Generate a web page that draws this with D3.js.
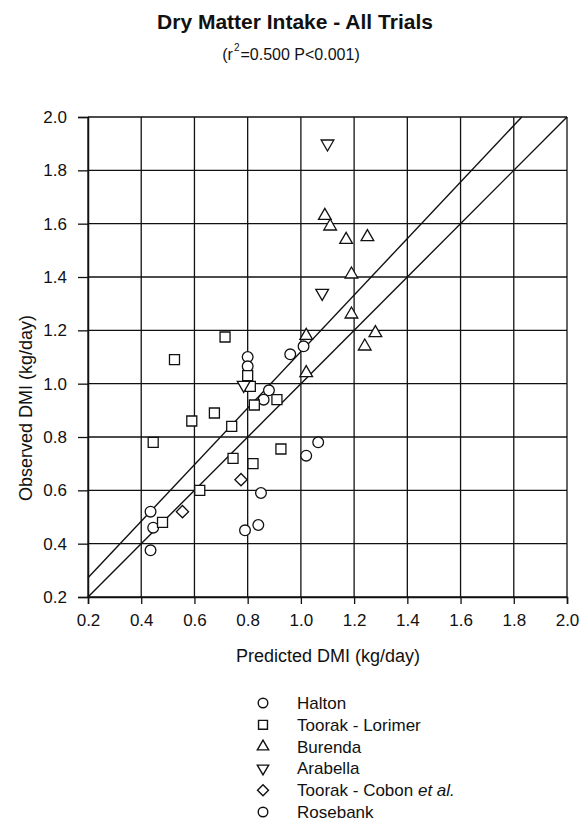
<!DOCTYPE html>
<html>
<head>
<meta charset="utf-8">
<script src="https://cdn.jsdelivr.net/npm/d3@7"></script>
<style>
  body { margin: 0; background: #fff; }
  text { font-family: "Liberation Sans", Arial, sans-serif; fill: #111; }
</style>
</head>
<body>
<svg id="chart"></svg>
<script>
// data (predicted, observed) in kg/day
var halton = [[0.80, 1.10], [0.80, 1.065], [0.96, 1.11], [0.88, 0.975], [0.86, 0.94],
  [1.065, 0.78], [1.02, 0.73], [0.85, 0.59], [0.435, 0.52], [0.445, 0.46],
  [0.435, 0.375], [0.79, 0.45], [0.84, 0.47]]
var toorakLorimer = [[0.80, 1.03], [0.81, 0.99], [0.91, 0.94], [0.825, 0.92], [0.74, 0.84],
  [0.675, 0.89], [0.59, 0.86], [0.445, 0.78], [0.525, 1.09], [0.715, 1.175],
  [0.745, 0.72], [0.82, 0.70], [0.925, 0.755], [0.62, 0.60], [0.48, 0.48]]
var burenda = [[1.09, 1.63], [1.11, 1.59], [1.17, 1.54], [1.25, 1.55], [1.19, 1.41],
  [1.19, 1.26], [1.28, 1.19], [1.24, 1.14], [1.02, 1.18], [1.02, 1.04]]
var arabella = [[1.10, 1.90], [1.08, 1.34], [0.785, 0.995]]
var toorakCobon = [[0.775, 0.64], [0.555, 0.52]]
var rosebank = [[1.01, 1.14]]

var seriesNames = ["Halton", "Toorak - Lorimer", "Burenda", "Arabella", "Toorak - Cobon", "Rosebank"]
var seriesData = [halton, toorakLorimer, burenda, arabella, toorakCobon, rosebank]

// 1:1 line and the fitted regression line
var lineX = [[0.2, 2.0], [0.2, 1.83]]
var lineY = [[0.2, 2.0], [0.272, 2.0]]

var ticks = [0.2, 0.4, 0.6, 0.8, 1.0, 1.2, 1.4, 1.6, 1.8, 2.0]

var width = 581, height = 825
var svg = d3.select('#chart').attr('width', width).attr('height', height)

var x = d3.scaleLinear().domain([0.2, 2.0]).range([88, 567])
var y = d3.scaleLinear().domain([0.2, 2.0]).range([597, 117])

// grid lines
svg.append('g').selectAll('line').data(ticks).join('line')
  .attr('x1', d => x(d)).attr('x2', d => x(d))
  .attr('y1', y(0.2)).attr('y2', y(2.0))
  .attr('stroke', '#111').attr('stroke-width', 1.3)
svg.append('g').selectAll('line').data(ticks).join('line')
  .attr('x1', x(0.2)).attr('x2', x(2.0))
  .attr('y1', d => y(d)).attr('y2', d => y(d))
  .attr('stroke', '#111').attr('stroke-width', 1.3)

// axes
var xAxis = svg.append('g').attr('transform', 'translate(0,' + y(0.2) + ')')
  .call(d3.axisBottom(x).tickValues(ticks).tickFormat(d3.format('.1f')).tickSize(7).tickPadding(10))
var yAxis = svg.append('g').attr('transform', 'translate(' + x(0.2) + ',0)')
  .call(d3.axisLeft(y).tickValues(ticks).tickFormat(d3.format('.1f')).tickSize(10).tickPadding(11))
;[xAxis, yAxis].forEach(a => {
  a.select('.domain').attr('stroke', '#111').attr('stroke-width', 1.5)
  a.selectAll('line').attr('stroke', '#111').attr('stroke-width', 1.3)
  a.selectAll('text').attr('font-size', 17).attr('font-family', '"Liberation Sans", Arial, sans-serif').attr('fill', '#111')
})

// diagonal lines
var line = d3.line().x(d => x(d[0])).y(d => y(d[1]))
for (let i = 0; i < lineX.length; i++) {
  svg.append('path')
    .attr('d', line(lineX[i].map((v, j) => [v, lineY[i][j]])))
    .attr('fill', 'none').attr('stroke', '#111').attr('stroke-width', 1.4)
}

// symbols for each trial (diamond = square turned 45deg)
var shapes = [
  { type: d3.symbolCircle, size: 90, rot: 0 },
  { type: d3.symbolSquare, size: 100, rot: 0 },
  { type: d3.symbolTriangle, size: 70, rot: 0 },
  { type: d3.symbolTriangle, size: 70, rot: 180 },
  { type: d3.symbolSquare, size: 75, rot: 45 },
  { type: d3.symbolCircle, size: 90, rot: 0 }
]

for (let i = 0; i < seriesData.length; i++) {
  var s = shapes[i]
  svg.append('g').selectAll('path').data(seriesData[i]).join('path')
    .attr('d', d3.symbol().type(s.type).size(s.size))
    .attr('transform', d => 'translate(' + x(d[0]) + ',' + y(d[1]) + ') rotate(' + s.rot + ')')
    .attr('fill', '#fff').attr('stroke', '#111').attr('stroke-width', 1.3)
}

// titles
svg.append('text').attr('x', 295).attr('y', 29).attr('text-anchor', 'middle')
  .attr('font-size', 21).attr('font-weight', 'bold').text('Dry Matter Intake - All Trials')
var sub = svg.append('text').attr('x', 291).attr('y', 60).attr('text-anchor', 'middle').attr('font-size', 16)
sub.append('tspan').text('(r')
sub.append('tspan').attr('font-size', 10).attr('dx', 1).attr('dy', -9).text('2')
sub.append('tspan').attr('dy', 9).attr('dx', 1).text('=0.500 P<0.001)')

svg.append('text').attr('x', 328).attr('y', 662).attr('text-anchor', 'middle')
  .attr('font-size', 18).text('Predicted DMI (kg/day)')
svg.append('text').attr('transform', 'translate(32,408) rotate(-90)').attr('text-anchor', 'middle')
  .attr('font-size', 18).text('Observed DMI (kg/day)')

// legend
var legend = svg.append('g')
for (let i = 0; i < seriesNames.length; i++) {
  var ly = 703 + i * 21.8
  var s = shapes[i]
  legend.append('path')
    .attr('d', d3.symbol().type(s.type).size(s.size * 0.8))
    .attr('transform', 'translate(263,' + ly + ') rotate(' + s.rot + ')')
    .attr('fill', '#fff').attr('stroke', '#111').attr('stroke-width', 1.4)
  var t = legend.append('text').attr('x', 297).attr('y', ly + 6).attr('font-size', 17)
  t.append('tspan').text(seriesNames[i])
  if (seriesNames[i] == "Toorak - Cobon") {
    t.append('tspan').attr('font-style', 'italic').text(' et al.')
  }
}
</script>
</body>
</html>
